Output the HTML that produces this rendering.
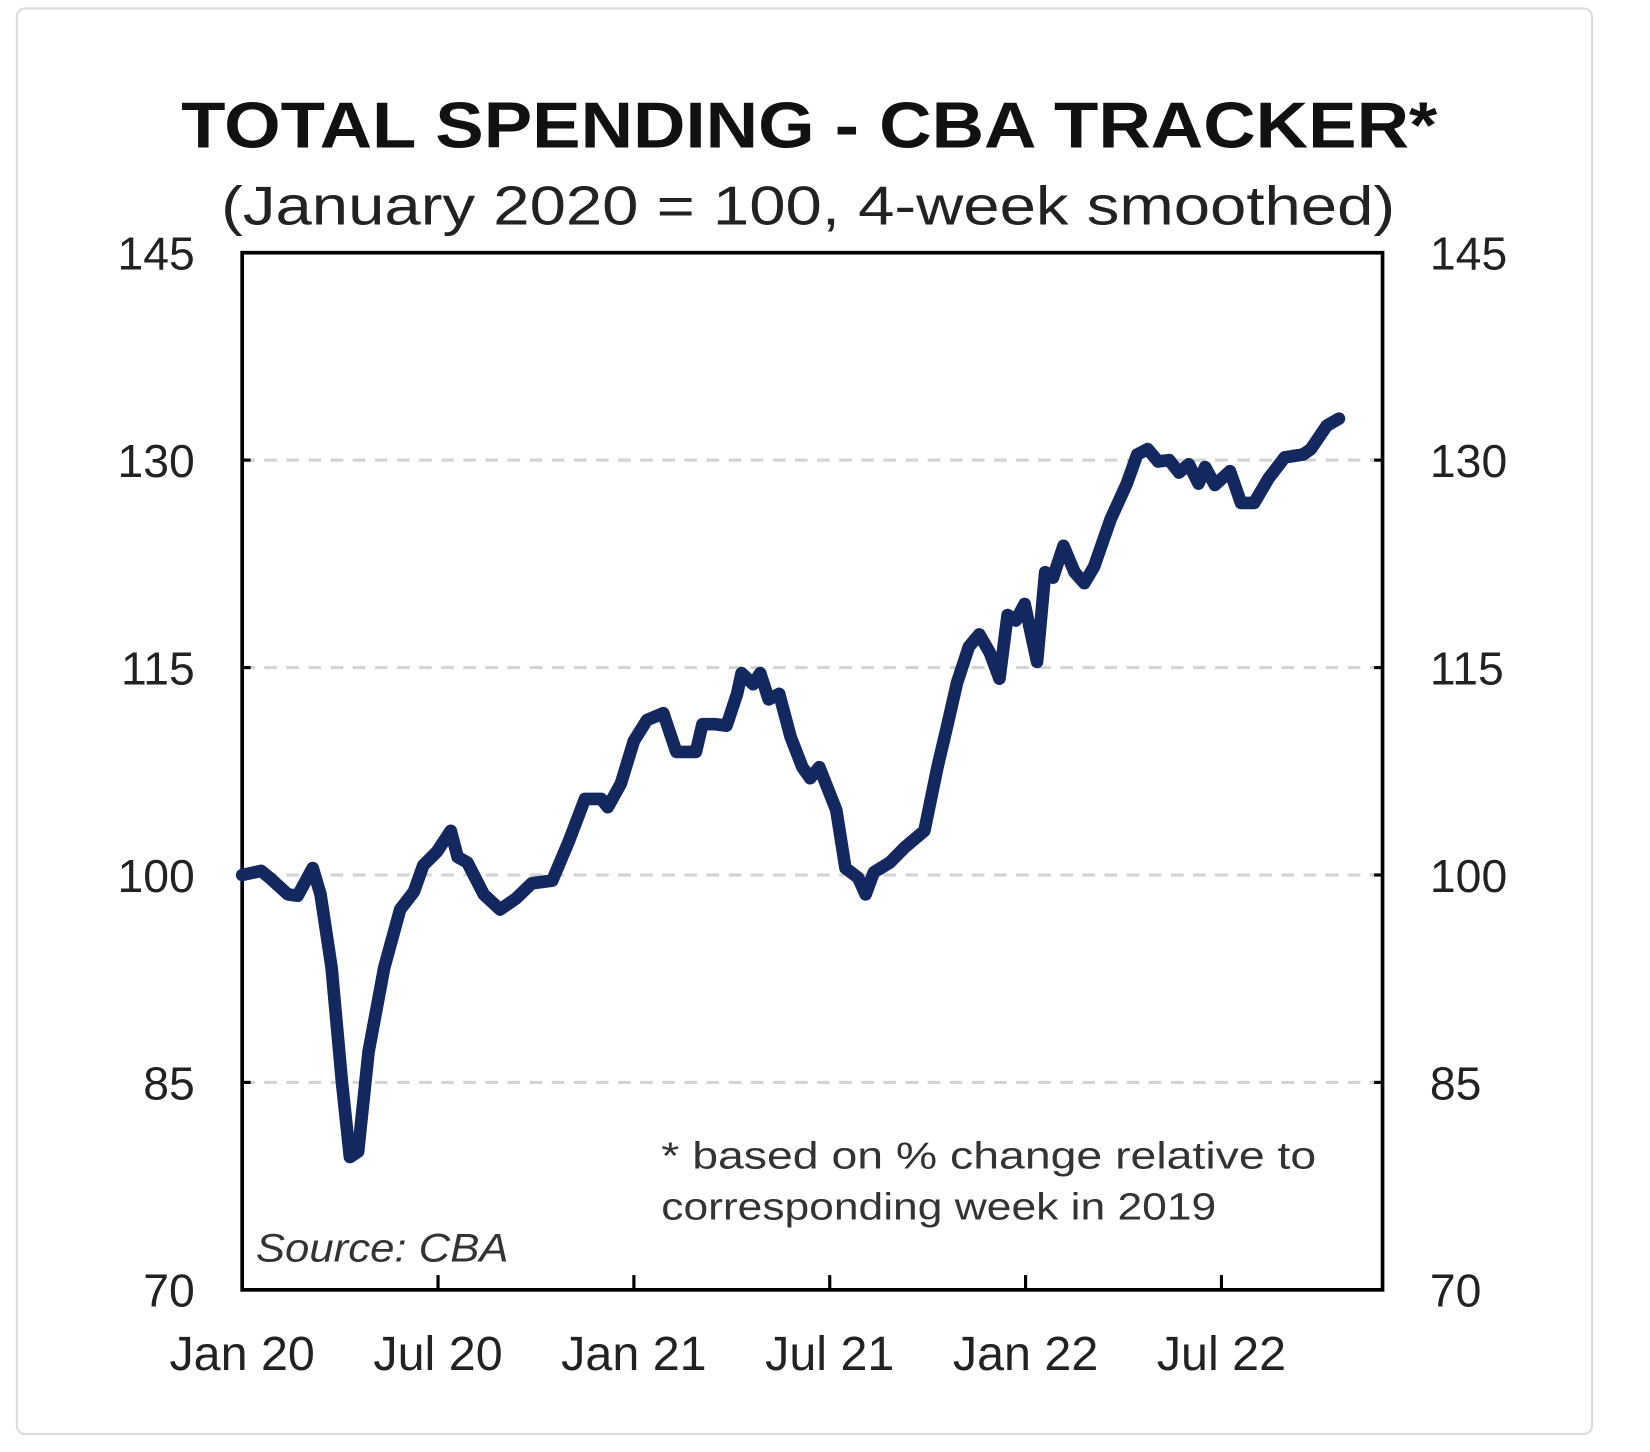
<!DOCTYPE html>
<html><head><meta charset="utf-8">
<style>
html,body{margin:0;padding:0;background:#fff;}
svg{display:block;}
text{font-family:"Liberation Sans",Arial,sans-serif;}
</style></head>
<body>
<svg id="chart" width="1650" height="1452" viewBox="0 0 1567 1379" preserveAspectRatio="none" xmlns="http://www.w3.org/2000/svg">
<rect x="16" y="8" width="1496" height="1354" rx="8" fill="#fff" stroke="#dcdcdc" stroke-width="2"/>
<text x="172" y="140" font-size="62" font-weight="bold" fill="#111" textLength="1193" lengthAdjust="spacingAndGlyphs">TOTAL SPENDING - CBA TRACKER*</text>
<text x="210" y="213" font-size="52" fill="#222" textLength="1115" lengthAdjust="spacingAndGlyphs">(January 2020 = 100, 4-week smoothed)</text>
<g id="grid"></g>
<g id="axes"></g>
<path id="line" fill="none" stroke="#13285f" stroke-width="12" stroke-linejoin="round" stroke-linecap="round"/>
<text x="628" y="1110" font-size="36" fill="#333" textLength="622" lengthAdjust="spacingAndGlyphs">*    based on % change relative to</text>
<text x="628" y="1158" font-size="36" fill="#333" textLength="527" lengthAdjust="spacingAndGlyphs">corresponding week in 2019</text>
<text x="243" y="1198" font-size="38" font-style="italic" fill="#333" textLength="240" lengthAdjust="spacingAndGlyphs">Source: CBA</text>
</svg>
<script>
const months = [0,0.58,0.84,1.4,1.7,2.16,2.4,2.74,3.06,3.3,3.55,3.87,4.35,4.84,5.26,5.55,5.97,6.39,6.6,6.9,7.4,7.9,8.39,8.87,9.5,10,10.5,11,11.2,11.6,12,12.4,12.9,13.3,13.9,14.1,14.5,14.84,15.16,15.3,15.65,15.87,16.13,16.45,16.8,17.16,17.4,17.68,18.2,18.48,18.87,19.1,19.35,19.84,20.3,20.9,21.3,21.6,21.9,22.26,22.58,22.9,23.2,23.45,23.7,23.97,24.35,24.6,24.84,25.16,25.5,25.8,26.1,26.6,27.1,27.42,27.74,28.06,28.4,28.7,29,29.3,29.5,29.8,30.26,30.6,31,31.45,31.94,32.5,32.74,33.23,33.6];
const values = [100,100.3,99.8,98.6,98.5,100.5,98.6,93.3,84.9,79.6,80,87.2,93.3,97.5,98.8,100.7,101.7,103.2,101.3,100.9,98.6,97.5,98.3,99.4,99.6,102.4,105.5,105.5,104.9,106.6,109.7,111.2,111.7,108.9,108.9,110.9,110.9,110.8,113.1,114.6,113.8,114.6,112.7,113.1,110,107.8,107,107.8,104.7,100.5,99.8,98.6,100.2,100.9,102,103.2,107.8,110.8,113.9,116.5,117.4,116.1,114.2,118.8,118.4,119.6,115.4,121.9,121.5,123.8,121.9,121.1,122.3,125.7,128.3,130.4,130.8,129.9,130,129.1,129.7,128.3,129.5,128.2,129.2,126.9,126.9,128.7,130.2,130.4,130.8,132.5,133];
const yTicks = [70,85,100,115,130,145];
const xTickLabels = ["Jan 20","Jul 20","Jan 21","Jul 21","Jan 22","Jul 22"];
const xTickMonths = [0,6,12,18,24,30];

const NS="http://www.w3.org/2000/svg";
const L=230,R=1313,T=240,B=1225;
const xs=m=>L+m*(186/6);
const ys=v=>B-(v-70)*(B-T)/75;
function mk(tag,attrs,parent){const e=document.createElementNS(NS,tag);for(const k in attrs)e.setAttribute(k,attrs[k]);parent.appendChild(e);return e;}
const grid=document.getElementById('grid'),axes=document.getElementById('axes');
yTicks.forEach(v=>{
  const y=ys(v);
  if(v>70&&v<145){
    const g=mk('line',{x1:L,x2:R,y1:y,y2:y,stroke:'#d4d4d4','stroke-width':3,'stroke-dasharray':'12 9'},grid);
    
    
    mk('line',{x1:L,x2:L+8,y1:y,y2:y,stroke:'#000','stroke-width':3},axes);
    mk('line',{x1:R-8,x2:R,y1:y,y2:y,stroke:'#000','stroke-width':3},axes);
  }
  const tl=mk('text',{x:185,y:y+16,'font-size':44,'text-anchor':'end',fill:'#222'},axes);
  tl.textContent=v;
  
  
  const tr=mk('text',{x:1358,y:y+16,'font-size':44,'text-anchor':'start',fill:'#222'},axes);
  tr.textContent=v;
  
  
});
xTickMonths.forEach((m,i)=>{
  const x=xs(m);
  if(i>0)mk('line',{x1:x,x2:x,y1:B-14,y2:B,stroke:'#000','stroke-width':3},axes);
  const t=mk('text',{x:x,y:1301,'font-size':46,'text-anchor':'middle',fill:'#222'},axes);
  t.textContent=xTickLabels[i];
  
  
});
const frame=mk('rect',{x:L,y:T,width:R-L,height:B-T,fill:'none',stroke:'#000','stroke-width':3.5},axes);


document.getElementById('line').setAttribute('d',months.map((m,i)=>(i?'L':'M')+xs(m).toFixed(1)+' '+ys(values[i]).toFixed(1)).join(' '));
</script>
</body></html>
